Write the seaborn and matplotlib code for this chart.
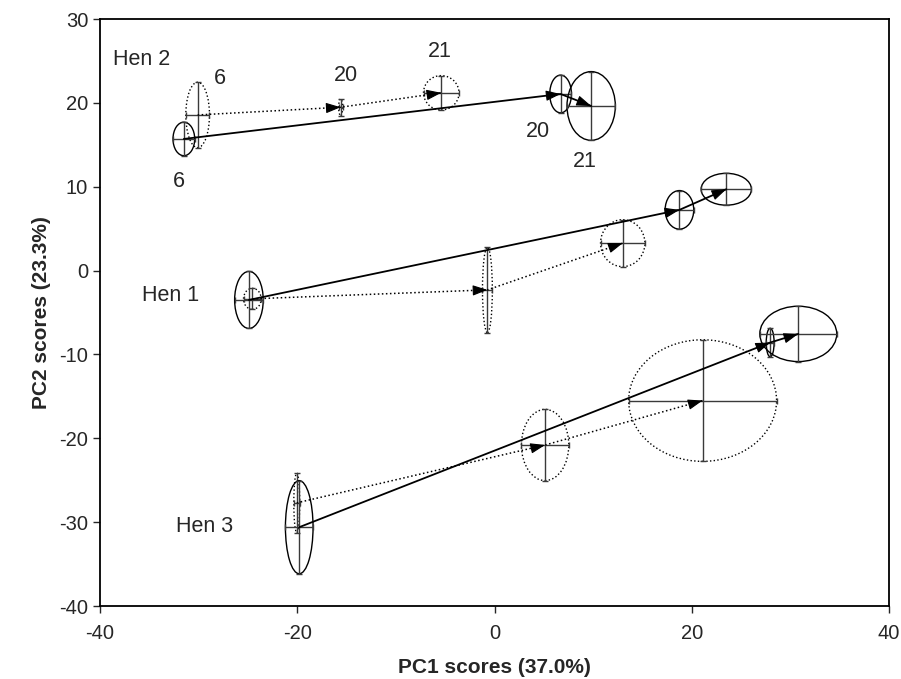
import numpy as np
import pandas as pd
import seaborn as sns
import matplotlib
matplotlib.use('Agg')
import matplotlib.pyplot as plt
from matplotlib.patches import Ellipse

# group means (PC1, PC2) and half spreads for each hen / trajectory
hens = ['Hen 1', 'Hen 1', 'Hen 1', 'Hen 1', 'Hen 1', 'Hen 1',
        'Hen 2', 'Hen 2', 'Hen 2', 'Hen 2', 'Hen 2', 'Hen 2',
        'Hen 3', 'Hen 3', 'Hen 3', 'Hen 3', 'Hen 3', 'Hen 3']
track = ['solid', 'solid', 'solid', 'dotted', 'dotted', 'dotted'] * 3
day = [6, 20, 21] * 6
pc1 = [-24.9, 18.75, 23.5, -24.55, -0.72, 13.0,
       -31.5, 6.7, 9.8, -30.1, -15.6, -5.4,
       -19.8, 27.95, 30.8, -20.05, 5.13, 21.1]
pc2 = [-3.5, 7.24, 9.7, -3.37, -2.3, 3.27,
       15.7, 21.06, 19.63, 18.56, 19.48, 21.2,
       -30.6, -8.58, -7.55, -27.7, -20.8, -15.5]
sd1 = [1.45, 1.45, 2.55, 0.9, 0.5, 2.25,
       1.1, 1.1, 2.45, 1.2, 0.2, 1.8,
       1.4, 0.4, 3.9, 0.3, 2.4, 7.5]
sd2 = [3.4, 2.3, 1.9, 1.25, 5.1, 2.8,
       2.0, 2.25, 4.1, 3.9, 1.0, 2.05,
       5.55, 1.7, 3.3, 3.55, 4.25, 7.25]

# text labels on the plot
label_text = ['Hen 2', '6', '20', '21', '6', '20', '21', 'Hen 1', 'Hen 3']
label_x = [-35.8, -27.8, -15.1, -5.55, -32.0, 4.4, 9.2, -32.8, -29.35]
label_y = [25.2, 22.9, 23.3, 26.1, 10.6, 16.6, 13.0, -3.0, -30.55]

df = pd.DataFrame({'hen': hens, 'track': track, 'day': day,
                   'pc1': pc1, 'pc2': pc2, 'sd1': sd1, 'sd2': sd2})

sns.set_style('ticks')
plt.rcParams['font.family'] = ['Liberation Sans', 'DejaVu Sans']
plt.rcParams['axes.unicode_minus'] = False

fig = plt.figure(figsize=(9.01, 6.79), dpi=100)
ax = fig.add_axes([0.111, 0.1075, 0.8757, 0.8645])

styles = {'solid': '-', 'dotted': ':'}
for (hen, tr), g in df.groupby(['hen', 'track']):
    ls = styles[tr]
    lw = 1.3 if tr == 'solid' else 1.1
    sns.lineplot(data=g, x='pc1', y='pc2', sort=False, estimator=None,
                 color='black', linestyle=ls, linewidth=lw, ax=ax, zorder=3)
    xs = g['pc1'].values
    ys = g['pc2'].values
    for i in range(1, len(xs)):
        dx = xs[i] - xs[i - 1]
        dy = ys[i] - ys[i - 1]
        d = np.hypot(dx, dy)
        ax.annotate('', xy=(xs[i], ys[i]),
                    xytext=(xs[i] - dx / d * 0.5, ys[i] - dy / d * 0.5),
                    arrowprops=dict(arrowstyle='-|>,head_length=0.9,head_width=0.32',
                                    color='black', lw=0.8, shrinkA=0, shrinkB=0),
                    zorder=4)
    for _, r in g.iterrows():
        ax.add_patch(Ellipse((r['pc1'], r['pc2']), 2 * r['sd1'], 2 * r['sd2'],
                             fill=False, edgecolor='black', linestyle=ls,
                             linewidth=1.0, zorder=2))
        ax.errorbar(r['pc1'], r['pc2'], xerr=r['sd1'], yerr=r['sd2'],
                    fmt='none', ecolor='#3a3a3a', elinewidth=1.0,
                    capsize=2.5, capthick=1.0, zorder=2)

for t, x, y in zip(label_text, label_x, label_y):
    ax.text(x, y, t, ha='center', va='center', fontsize=15.5)

ax.set_xlim(-40, 40)
ax.set_ylim(-40, 30)
ax.set_xticks(range(-40, 41, 20))
ax.set_yticks(range(-40, 31, 10))
ax.tick_params(labelsize=14.5, length=5, width=1, direction='out')
ax.tick_params(axis='x', pad=8)
ax.set_xlabel('PC1 scores (37.0%)', fontsize=15, fontweight='bold', labelpad=11)
ax.set_ylabel('PC2 scores (23.3%)', fontsize=15, fontweight='bold', labelpad=6)
for s in ax.spines.values():
    s.set_linewidth(1.3)
    s.set_color('black')
    s.set_visible(True)
ax.legend_ = None

fig.savefig('out.png', dpi=100)
